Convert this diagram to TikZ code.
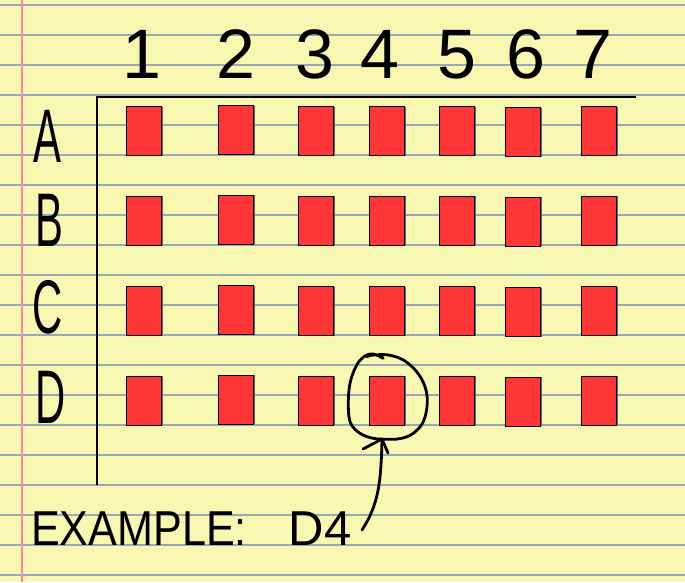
\documentclass[tikz,border=0pt]{standalone}
\usepackage{fontspec}
\setmainfont{Liberation Sans}
\usetikzlibrary{shadows}
\definecolor{paper}{RGB}{248,247,178}
\definecolor{ruleblue}{RGB}{152,168,184}
\definecolor{marginpink}{RGB}{250,135,150}
\definecolor{cellred}{RGB}{255,54,54}
\begin{document}
\begin{tikzpicture}[x=1pt,y=-1pt,
  cell/.style={draw=black, line width=1pt, fill=cellred, minimum width=35pt,
    minimum height=49pt, inner sep=0pt,
    general shadow={fill=black!60, shadow xshift=1.6pt}},
  rule/.style={draw=ruleblue, line width=1.4pt},
  margin/.style={draw=marginpink, line width=1.3pt},
  axis/.style={line width=2.7pt},
  pen/.style={line width=2.8pt, line cap=round, line join=round},
  digit/.style={font=\fontsize{70}{70}\selectfont, inner sep=0pt, anchor=base},
  letter/.style={font=\fontsize{76}{76}\selectfont, inner sep=0pt, anchor=base},
  caption/.style={font=\fontsize{49}{49}\selectfont, inner sep=0pt, anchor=base west}]
% paper
\fill[paper] (0,0) rectangle (685,582);
\useasboundingbox (0,0) rectangle (685,582);
\foreach \k in {0,...,19} \draw[rule] (0,5+30*\k) -- (685,5+30*\k);
\draw[margin] (22,0) -- (22,582);
% axes
\coordinate (xend) at (636,97);
\coordinate (origin) at (97,97);
\coordinate (yend) at (97,485);
\draw[axis] (xend) -- (origin) -- (yend);
% column labels
\foreach \c/\x in {1/142,2/236,3/315,4/380,5/457,6/526,7/593}
  \node[digit] (col\c) at (\x,78) {\c};
% row labels
\foreach \r/\x/\y in {A/47/162,B/49/246,C/48/333,D/51/423}
  \node[letter] (row\r) at (\x,\y) {\scalebox{0.55}[1]{\r}};
% cells
\foreach \r/\y in {A/131,B/220.5,C/311,D/400.5}
  \foreach \c/\x/\dy in {1/144/0,2/236/-1,3/315.5/0,4/387/0,5/457/0,6/523/1,7/599/0}
    \node[cell] (sq-\r\c) at (\x,\y+\dy) {};
% circle around D4
\draw[pen] plot[smooth, tension=0.6] coordinates {
  (383.3,358.3) (373.3,354) (365,356) (356.7,365) (350,383.3) (348.3,406.7)
  (350.7,423.3) (360,433.3) (373.3,438.3) (390,439.3) (401.7,438.3)
  (413.3,433.3) (423.3,421.7) (427.3,403.3) (425,386.7) (416.7,371.7)
  (403.3,360) (388.3,355) (373.3,355) (366.7,356.7)};
% arrow
\coordinate (tail) at (362,530);
\coordinate (tip) at (382,439);
\coordinate (barbL) at (363,449);
\coordinate (barbR) at (388,453);
\draw[pen] (tail) .. controls (378,505) and (381,485) .. (tip);
\draw[pen] (barbL) -- (tip) -- (barbR);
% caption
\node[caption] (example) at (31,545) {\scalebox{0.88}[1]{EXAMPLE:}\hspace{42pt}D4};
\end{tikzpicture}
\end{document}
